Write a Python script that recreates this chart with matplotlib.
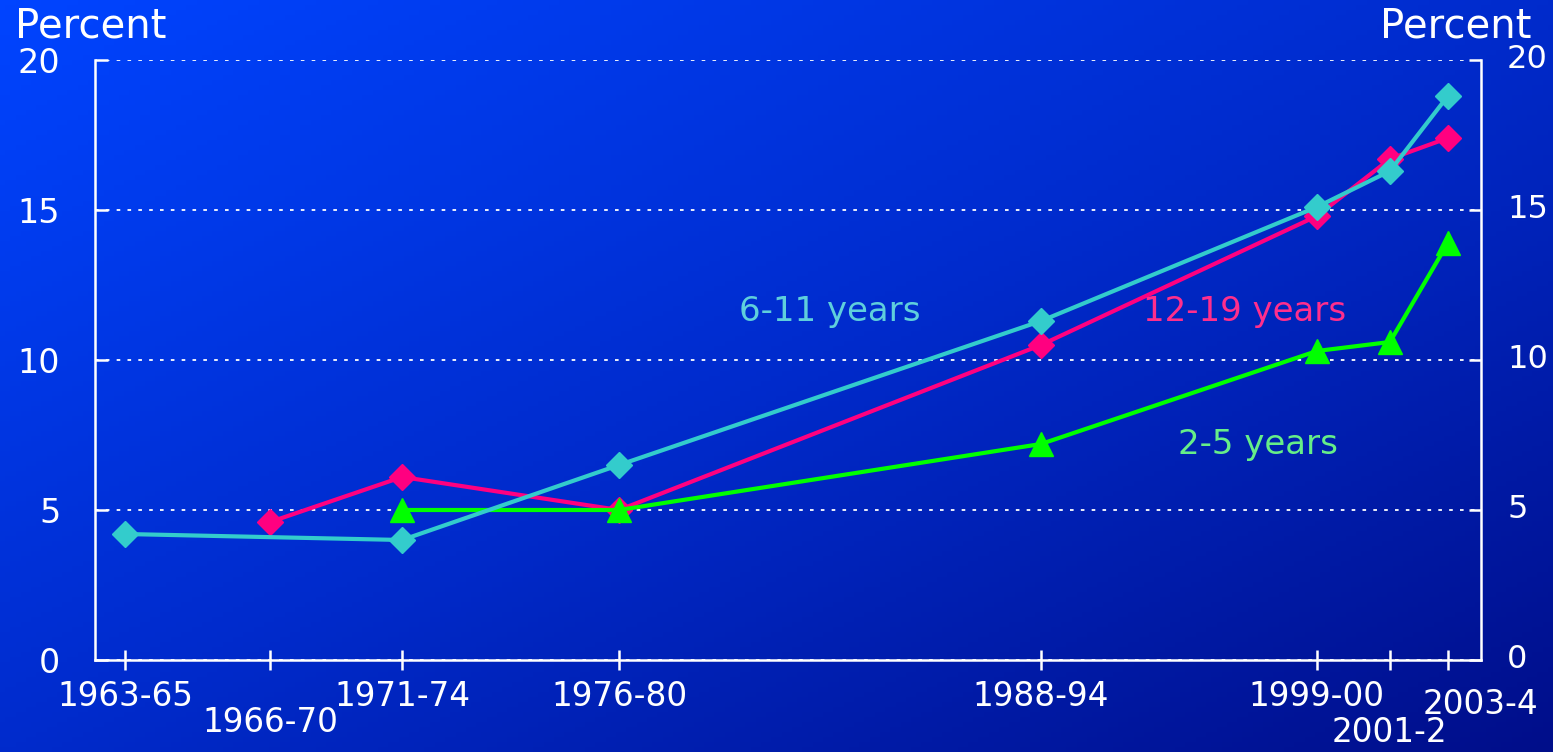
import numpy as np
import matplotlib
matplotlib.use("Agg")
import matplotlib.pyplot as plt
from matplotlib.colors import LinearSegmentedColormap

plt.rcParams['font.family'] = ['DejaVu Sans']

# survey periods and where they sit on the time axis (approx. mid-year)
periods = ['1963-65', '1966-70', '1971-74', '1976-80', '1988-94', '1999-00', '2001-2', '2003-4']
period_x = [1964.0, 1968.33, 1972.27, 1978.75, 1991.35, 1999.59, 2001.77, 2003.5]

# prevalence of overweight, percent (None = no survey value)
age_6_11 = [4.2, None, 4.0, 6.5, 11.3, 15.1, 16.3, 18.8]
age_12_19 = [None, 4.6, 6.1, 5.0, 10.5, 14.8, 16.7, 17.4]
age_2_5 = [None, None, 5.0, 5.0, 7.2, 10.3, 10.6, 13.9]
y_ticks = [0, 5, 10, 15, 20]

W, H = 1553, 752
fig = plt.figure(figsize=(W / 100, H / 100), dpi=100)

# diagonal blue gradient background
bg = fig.add_axes([0, 0, 1, 1], zorder=-10)
xx, yy = np.meshgrid(np.linspace(0, 1, 300), np.linspace(0, 1, 150))
t = (xx + yy) / 2
cmap = LinearSegmentedColormap.from_list('bg', ['#0044ff', '#002bcc', '#000e8a'])
bg.imshow(t, cmap=cmap, aspect='auto', extent=[0, 1, 0, 1], origin='upper')
bg.axis('off')

ax = fig.add_axes([95 / W, 1 - 660 / H, (1481 - 95) / W, 600 / H])
ax.set_facecolor('none')


def series(vals):
    xs = [x for x, v in zip(period_x, vals) if v is not None]
    ys = [v for v in vals if v is not None]
    return xs, ys


teal, pink, green = '#33cccc', '#ff0080', '#00ff00'
x, y = series(age_6_11)
ax.plot(x, y, color=teal, lw=3, marker='D', markersize=13, zorder=4)
x, y = series(age_12_19)
ax.plot(x, y, color=pink, lw=3, marker='D', markersize=13, zorder=3)
x, y = series(age_2_5)
ax.plot(x, y, color=green, lw=3, marker='^', markersize=17, zorder=3)

ax.text(1985.05, 11.6, '6-11 years', color='#5fcfdc', fontsize=24.5, ha='center', va='center')
ax.text(1997.44, 11.6, '12-19 years', color='#ff2e8c', fontsize=24.5, ha='center', va='center')
ax.text(1997.83, 7.17, '2-5 years', color='#66ee88', fontsize=24.5, ha='center', va='center')

ax.set_xlim(1963.1, 2004.49)
ax.set_ylim(0, 20)

for s in ['left', 'right', 'bottom']:
    ax.spines[s].set_color('white')
    ax.spines[s].set_linewidth(1.8)
ax.spines['top'].set_visible(False)

ax.set_yticks(y_ticks)
ax.yaxis.grid(True, color='white', linestyle=(0, (2, 4)), linewidth=1.3)
ax.tick_params(axis='y', which='both', direction='in', length=9, width=1.8, color='white',
               left=True, right=True, labelleft=True, labelright=False,
               labelsize=24, labelcolor='white', pad=25)

# right-hand value labels
for v in y_ticks:
    ax.annotate(str(v), xy=(1, v), xycoords=('axes fraction', 'data'),
                xytext=(26, 0), textcoords='offset pixels',
                ha='left', va='center', color='white', fontsize=23)

ax.set_xticks(period_x)
ax.set_xticklabels([])
ax.tick_params(axis='x', direction='inout', length=14, width=1.8, color='white')

# staggered period labels below the axis
offsets = {'1966-70': (0, -62), '2001-2': (0, -73), '2003-4': (33, -45)}
for lab, px in zip(periods, period_x):
    dx, dy = offsets.get(lab, (0, -37))
    ax.annotate(lab, xy=(px, 0), xycoords=('data', 'axes fraction'),
                xytext=(dx, dy), textcoords='offset pixels',
                ha='center', va='center', color='white', fontsize=23.5)

fig.text(15 / W, 1 - 27 / H, 'Percent', color='white', fontsize=29, ha='left', va='center')
fig.text(1532 / W, 1 - 27 / H, 'Percent', color='white', fontsize=29, ha='right', va='center')

fig.savefig('out.png', dpi=100)
